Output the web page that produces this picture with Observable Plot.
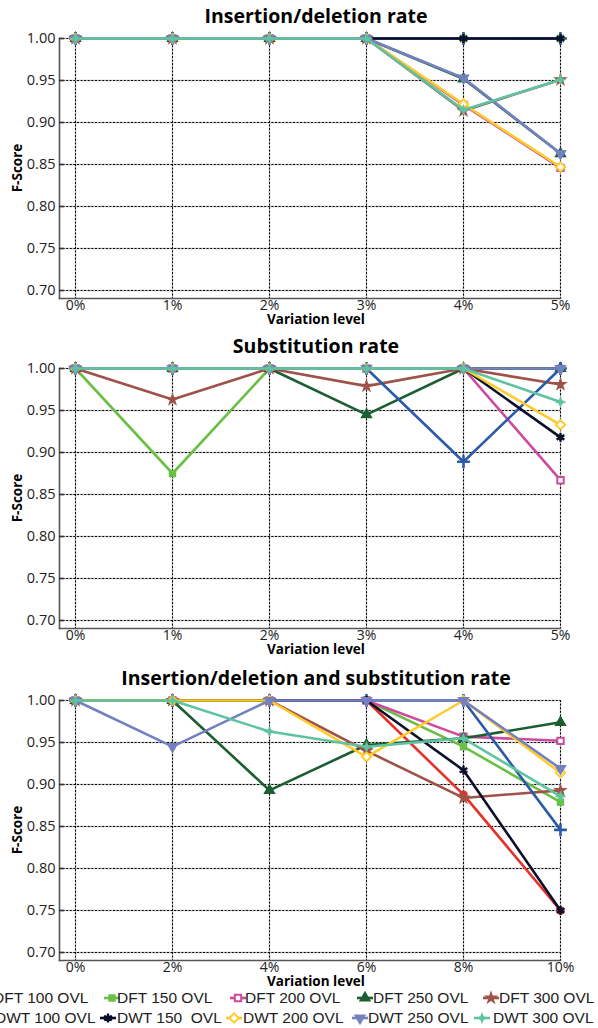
<!DOCTYPE html>
<html><head><meta charset="utf-8">
<script src="https://cdn.jsdelivr.net/npm/d3@7"></script>
<script src="https://cdn.jsdelivr.net/npm/@observablehq/plot@0.6"></script>
<style>
html,body{margin:0;padding:0;background:#fff;overflow:hidden;}
#wrap{position:relative;width:598px;height:1028px;overflow:hidden;}
.panel{position:absolute;left:0;}
#overlay{position:absolute;left:0;top:0;pointer-events:none;}
.leg{position:absolute;font-family:"Liberation Sans",Arial,sans-serif;font-size:15.5px;color:#222;white-space:pre;line-height:18px;}
.sw{position:absolute;}
</style>
</head><body>
<div id="wrap"></div>
<script>
// ---------- data ----------
const seriesNames = ["DFT 100 OVL","DFT 150 OVL","DFT 200 OVL","DFT 250 OVL","DFT 300 OVL",
                     "DWT 100 OVL","DWT 150  OVL","DWT 200 OVL","DWT 250 OVL","DWT 300 OVL"];
const seriesColors = ["#e8302a","#6abf45","#cc4b9c","#1b5e31","#9e5248",
                      "#2b5ba8","#0c0f2a","#ffcb2b","#7481c0","#5fc3a2"];
const panelTitles = ["Insertion/deletion rate","Substitution rate","Insertion/deletion and substitution rate"];
const xLevelsSingle = [0,1,2,3,4,5];
const xLevelsCombined = [0,2,4,6,8,10];
const yTickValues = [0.70,0.75,0.80,0.85,0.90,0.95,1.00];

// rows follow seriesNames order
const indelRate = [
  [1,1,1,1,1,1],
  [1,1,1,1,1,1],
  [1,1,1,1,0.921,0.846],
  [1,1,1,1,0.952,0.863],
  [1,1,1,1,0.914,0.951],
  [1,1,1,1,1,1],
  [1,1,1,1,1,1],
  [1,1,1,1,0.922,0.847],
  [1,1,1,1,0.953,0.863],
  [1,1,1,1,0.915,0.951]
];
const substitutionRate = [
  [1,1,1,1,1,1],
  [1,0.875,1,1,1,1],
  [1,1,1,1,1,0.867],
  [1,1,1,0.945,1,1],
  [1,0.963,1,0.979,1,0.981],
  [1,1,1,1,0.889,1],
  [1,1,1,1,1,0.918],
  [1,1,1,1,1,0.933],
  [1,1,1,1,1,1],
  [1,1,1,1,1,0.960]
];
const combinedRate = [
  [1,1,1,1,0.888,0.750],
  [1,1,1,1,0.945,0.879],
  [1,1,1,1,0.957,0.952],
  [1,1,0.893,0.947,0.955,0.974],
  [1,1,1,0.940,0.884,0.893],
  [1,1,1,1,1,0.846],
  [1,1,1,1,0.917,0.750],
  [1,1,1,0.933,1,0.914],
  [1,0.945,1,1,1,0.919],
  [1,1,0.963,0.945,0.955,0.886]
];

// ---------- styles ----------
const star4 = {
  draw(ctx, size) {
    const R = Math.sqrt(size / Math.PI) * 1.35, r = R * 0.42;
    for (let k = 0; k < 8; k++) {
      const a = k * Math.PI / 4 - Math.PI / 2;
      const rr = k % 2 ? r : R;
      const px = rr * Math.cos(a), py = rr * Math.sin(a);
      k ? ctx.lineTo(px, py) : ctx.moveTo(px, py);
    }
    ctx.closePath();
  }
};
const markerStyles = [
  {symbol:"circle", fill:seriesColors[0], r:4.2},
  {symbol:"square", fill:seriesColors[1], r:4.2},
  {symbol:"square", fill:"#fff", stroke:seriesColors[2], strokeWidth:2, r:3.6},
  {symbol:"triangle", fill:seriesColors[3], r:4.6},
  {symbol:"star", fill:seriesColors[4], r:4.6},
  {symbol:"plus", stroke:seriesColors[5], strokeWidth:2.6, r:4.2},
  {symbol:"asterisk", stroke:seriesColors[6], strokeWidth:2.4, r:4.2},
  {symbol:"diamond2", fill:"#fff", stroke:seriesColors[7], strokeWidth:2, r:4.2},
  {symbol:"triangle", fill:seriesColors[8], r:4.6, rotate:180},
  {symbol:star4, fill:seriesColors[9], r:4.4}
];

const wrap = document.getElementById("wrap");
const panelTops = [0, 330, 662];

function makePanel(values, xs, top) {
  const data = values.flatMap((row, i) => row.map((v, j) => ({s: i, x: xs[j], y: v})));
  const marks = [
    Plot.gridY(yTickValues, {stroke:"#c4c4c4", strokeOpacity:1, strokeWidth:1.4}),
    Plot.gridX(xs, {stroke:"#c4c4c4", strokeOpacity:1, strokeWidth:1.4}),
    Plot.gridY(yTickValues, {stroke:"#000", strokeOpacity:1, strokeWidth:1, strokeDasharray:"2,1.6"}),
    Plot.gridX(xs, {stroke:"#000", strokeOpacity:1, strokeWidth:1, strokeDasharray:"2,1.6"}),
    Plot.frame({anchor:"left", stroke:"#555", strokeWidth:1.6}),
    Plot.frame({anchor:"bottom", stroke:"#555", strokeWidth:1.6}),
    Plot.axisY(yTickValues, {tickSize:-5, tickPadding:9, stroke:"#333", strokeWidth:1.6,
      tickFormat: d => d.toFixed(2), label:null, fontSize:14.5, fill:"#222"}),
    Plot.axisX(xs, {tickSize:0, tickPadding:2, tickFormat: d => d + "%", label:null, fontSize:14, fill:"#222"})
  ];
  seriesNames.forEach((name, i) => {
    const sd = data.filter(d => d.s === i);
    marks.push(Plot.line(sd, {x:"x", y:"y", stroke:seriesColors[i], strokeWidth:2.6, strokeLinejoin:"round"}));
    marks.push(Plot.dot(sd, {x:"x", y:"y", ...markerStyles[i]}));
  });
  const chart = Plot.plot({
    width:598, height:330,
    marginTop:38, marginLeft:59, marginRight:38, marginBottom:32,
    x:{domain:[xs[0], xs[xs.length-1]], insetLeft:16},
    y:{domain:[0.70, 1.00], insetBottom:8},
    style:{fontFamily:"'Open Sans', sans-serif", background:"transparent", overflow:"visible"},
    marks
  });
  chart.classList.add("panel");
  chart.style.top = top + "px";
  wrap.appendChild(chart);
}

makePanel(indelRate, xLevelsSingle, panelTops[0]);
makePanel(substitutionRate, xLevelsSingle, panelTops[1]);
makePanel(combinedRate, xLevelsCombined, panelTops[2]);

// ---------- text overlay ----------
const ov = d3.select(wrap).append("svg").attr("id","overlay").attr("width",598).attr("height",1028);
panelTops.forEach((t, i) => {
  ov.append("text").attr("x",316).attr("y",t + 23).attr("text-anchor","middle")
    .attr("font-family","'Open Sans', sans-serif").attr("font-weight","bold").attr("font-size",19.5)
    .attr("fill","#000").text(panelTitles[i]);
  ov.append("text").attr("x",316).attr("y",t + 324).attr("text-anchor","middle")
    .attr("font-family","'Open Sans', sans-serif").attr("font-weight","bold").attr("font-size",13.5)
    .attr("fill","#000").text("Variation level");
  ov.append("text").attr("transform",`translate(22,${t + 168}) rotate(-90)`).attr("text-anchor","middle")
    .attr("font-family","'Open Sans', sans-serif").attr("font-weight","bold").attr("font-size",13.5)
    .attr("fill","#000").text("F-Score");
});

// ---------- legend ----------
const legendLayout = [
  [-13,-7,998],[112,117,998],[238,245,998],[365,373,998],[491,499,998],
  [-14,-5,1018],[108,117,1018],[234,243,1018],[360,368,1018],[482,493,1018]
];
const symMap = {circle:d3.symbolCircle, square:d3.symbolSquare, triangle:d3.symbolTriangle, star:d3.symbolStar,
  plus:d3.symbolPlus, asterisk:d3.symbolAsterisk, diamond2:d3.symbolDiamond2};
seriesNames.forEach((name, i) => {
  const [mx, tx, cy] = legendLayout[i];
  const ms = markerStyles[i];
  const sw = d3.select(wrap).append("svg").attr("class","sw")
    .style("left",(mx-10)+"px").style("top",(cy-10)+"px").attr("width",20).attr("height",20);
  sw.append("line").attr("x1",2).attr("x2",18).attr("y1",10).attr("y2",10)
    .attr("stroke",seriesColors[i]).attr("stroke-width",2.6);
  const sym = typeof ms.symbol === "string" ? symMap[ms.symbol] : ms.symbol;
  sw.append("path").attr("d", d3.symbol(sym, Math.PI * ms.r * ms.r)())
    .attr("transform",`translate(10,10) rotate(${ms.rotate || 0})`)
    .attr("fill", ms.fill || "none").attr("stroke", ms.stroke || "none").attr("stroke-width", ms.strokeWidth || 0);
  d3.select(wrap).append("div").attr("class","leg")
    .style("left",tx+"px").style("top",(cy-9)+"px").text(name);
});
</script>
</body></html>
